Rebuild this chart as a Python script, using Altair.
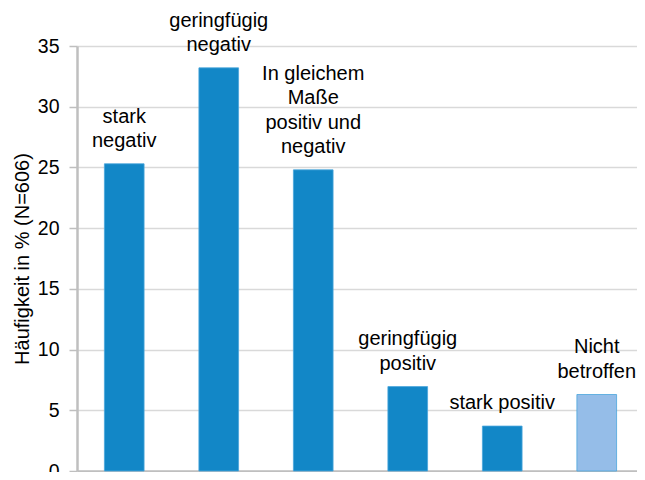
import altair as alt
import pandas as pd

categories = [
    "stark negativ",
    "geringfügig negativ",
    "In gleichem Maße positiv und negativ",
    "geringfügig positiv",
    "stark positiv",
    "Nicht betroffen",
]
label_lines = [
    ["stark", "negativ"],
    ["geringfügig", "negativ"],
    ["In gleichem", "Maße", "positiv und", "negativ"],
    ["geringfügig", "positiv"],
    ["stark positiv"],
    ["Nicht", "betroffen"],
]
values = [25.3, 33.2, 24.8, 6.95, 3.7, 6.3]
y_ticks = [0, 5, 10, 15, 20, 25, 30, 35]

df = pd.DataFrame({"Kategorie": categories, "Wert": values})

# one row per label line, k = line number counted from the bottom line
rows = []
for cat, val, lines in zip(categories, values, label_lines):
    n = len(lines)
    for i, line in enumerate(lines):
        rows.append({"Kategorie": cat, "Wert": val, "Zeile": line, "k": n - 1 - i})
df_lab = pd.DataFrame(rows)

FONT = "Liberation Sans, Arial, sans-serif"
LINE_UNITS = 2.0  # one text line expressed in y-axis units

x = alt.X(
    "Kategorie:N",
    sort=categories,
    scale=alt.Scale(paddingInner=0.58, paddingOuter=0.253, align=0.573),
    axis=alt.Axis(labels=False, ticks=False, title=None, grid=False,
                  domainColor="#bfbfbf", domainWidth=2.5),
)
y = alt.Y(
    "Wert:Q",
    scale=alt.Scale(domain=[0, 35], nice=False),
    axis=alt.Axis(
        values=y_ticks,
        title="Häufigkeit in % (N=606)",
        titleFont=FONT, titleFontSize=20, titleFontWeight="normal", titleColor="#000",
        titleX=-55, titleY=212.5, titleAngle=270, titleAlign="center", titleBaseline="middle",
        labelFont=FONT, labelFontSize=19.5, labelColor="#000", labelPadding=10,
        tickColor="#bfbfbf", tickSize=8, tickWidth=1.5,
        domainColor="#bfbfbf", domainWidth=2.5,
        grid=True, gridColor="#d9d9d9", gridWidth=1.5,
    ),
)

bars = alt.Chart(df).mark_bar(stroke="#4aa6dc", strokeWidth=0.8).encode(
    x=x,
    y=y,
    color=alt.condition(
        alt.datum.Kategorie == "Nicht betroffen",
        alt.value("#95bde8"),
        alt.value("#1287c7"),
    ),
)

text = alt.Chart(df_lab).transform_calculate(
    ypos=f"datum.Wert + datum.k * {LINE_UNITS}"
).mark_text(
    baseline="bottom", align="center", dy=-13,
    fontSize=20, font=FONT, color="#000",
).encode(
    x=alt.X("Kategorie:N", sort=categories),
    y="ypos:Q",
    text="Zeile:N",
)

chart = (bars + text).properties(
    width=560,
    height=425,
    autosize=alt.AutoSizeParams(type="none"),
    padding={"left": 69, "top": 38, "right": 0, "bottom": 1},
).configure_view(stroke=None)

chart.save("out.html", embed_options={"renderer": "svg", "actions": False})
